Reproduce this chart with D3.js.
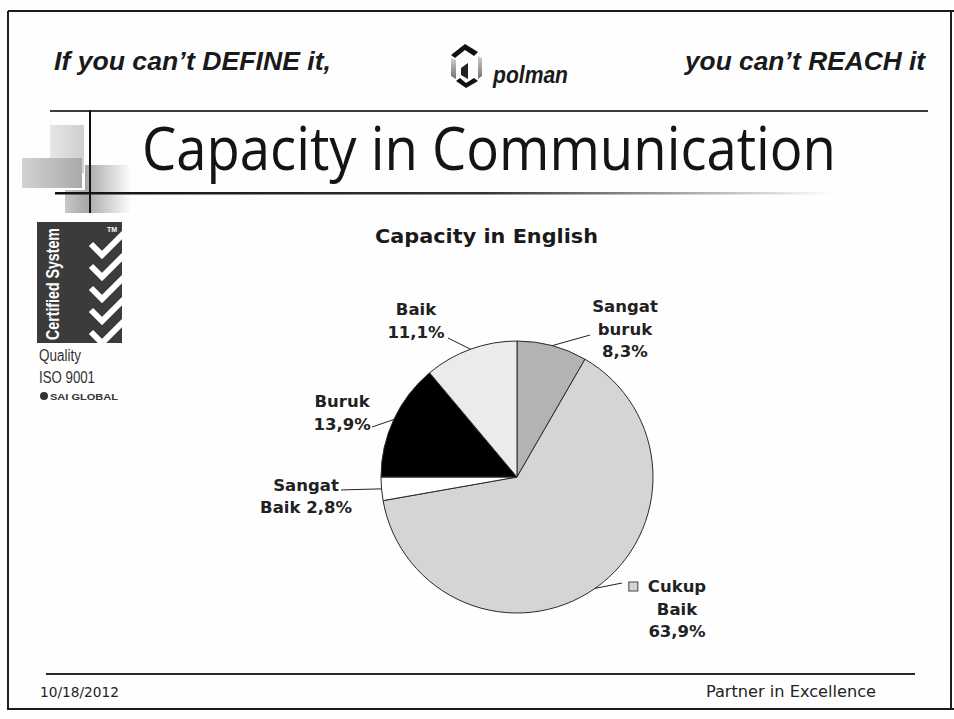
<!DOCTYPE html>
<html>
<head>
<meta charset="utf-8">
<script src="https://cdn.jsdelivr.net/npm/d3@7"></script>
<style>
  html, body { margin: 0; padding: 0; background: #ffffff; }
  svg { display: block; }
</style>
</head>
<body>
<script>
// ---------------- DATA ----------------
const categories = ["Sangat buruk", "Cukup Baik", "Sangat Baik", "Buruk", "Baik"];
const counts = [3, 23, 1, 5, 4];               // respondents (out of 36)
const labelLines = [
  ["Sangat", "buruk", "8,3%"],
  ["Cukup", "Baik", "63,9%"],
  ["Sangat", "Baik 2,8%"],
  ["Buruk", "13,9%"],
  ["Baik", "11,1%"]
];
const sliceColors = ["#b3b3b3", "#d5d5d5", "#ffffff", "#000000", "#ebebeb"];
const chartTitle = "Capacity in English";
const slideTitle = "Capacity in Communication";
const headerLeft = "If you can\u2019t DEFINE it,";
const headerRight = "you can\u2019t REACH it";
const footerLeft = "10/18/2012";
const footerRight = "Partner in Excellence";

// label layout: offsets relative to the slice's outer mid-point
const labelLayout = [
  { lx: 37.8, ly: -10.6, tx: 72.8, ty: -33.6 },
  { lx: 27,   ly: -5.4,  tx: 82,   ty: 3.6 },
  { lx: -40.5, ly: 1.1,  tx: -75.5, ty: 1.8 },
  { lx: -21.7, ly: 7.5,  tx: -51.7, ty: -12.5 },
  { lx: -22.5, ly: -11.2, tx: -54.5, ty: -34.2 }
];

// ---------------- SVG ----------------
const W = 954, H = 719;
const svg = d3.select("body").append("svg").attr("width", W).attr("height", H);
const defs = svg.append("defs");

svg.append("rect").attr("width", W).attr("height", H).attr("fill", "#fefefe");

// slide frame
const frame = svg.append("g").attr("stroke", "#1e1e1e").attr("stroke-width", 2).attr("fill", "none");
frame.append("line").attr("x1", 8).attr("y1", 11).attr("x2", 954).attr("y2", 11);
frame.append("line").attr("x1", 8).attr("y1", 11).attr("x2", 8).attr("y2", 710);
frame.append("line").attr("x1", 8).attr("y1", 709).attr("x2", 954).attr("y2", 709);
frame.append("line").attr("x1", 951).attr("y1", 11).attr("x2", 951).attr("y2", 710);

// header
svg.append("text").attr("x", 54).attr("y", 70)
  .attr("font-family", "'Liberation Sans', Arial, sans-serif")
  .attr("font-weight", "bold").attr("font-style", "italic").attr("font-size", 26)
  .attr("fill", "#1a1a1a").attr("textLength", 277).attr("lengthAdjust", "spacingAndGlyphs")
  .text(headerLeft);
svg.append("text").attr("x", 685).attr("y", 70)
  .attr("font-family", "'Liberation Sans', Arial, sans-serif")
  .attr("font-weight", "bold").attr("font-style", "italic").attr("font-size", 26)
  .attr("fill", "#1a1a1a").attr("textLength", 240).attr("lengthAdjust", "spacingAndGlyphs")
  .text(headerRight);

// polman logo
const lg = defs.append("linearGradient").attr("id", "logoGrey").attr("x1", 0).attr("y1", 0).attr("x2", 0).attr("y2", 1);
lg.append("stop").attr("offset", "0%").attr("stop-color", "#d0d0d0");
lg.append("stop").attr("offset", "100%").attr("stop-color", "#707070");
const logo = svg.append("g");
logo.append("path").attr("d", "M451,55 L465,44 L478,52 L474,56 L465,50 L455,58 Z").attr("fill", "#111");
logo.append("path").attr("d", "M451,58 L456,60 L456,79 L451,76 Z").attr("fill", "url(#logoGrey)");
logo.append("path").attr("d", "M478,56 L482,58 L482,76 L478,79 Z").attr("fill", "url(#logoGrey)");
logo.append("path").attr("d", "M456,81 L466,88 L478,81 L474,78 L466,83 L460,78 Z").attr("fill", "#111");
logo.append("path").attr("d", "M461,68 L468,63 L468,79 L461,75 Z").attr("fill", "#222");
svg.append("text").attr("x", 493).attr("y", 83)
  .attr("font-family", "'Liberation Sans Narrow', 'Liberation Sans', Arial, sans-serif")
  .attr("font-weight", "bold").attr("font-style", "italic").attr("font-size", 23)
  .attr("fill", "#1a1a1a").attr("textLength", 75).attr("lengthAdjust", "spacingAndGlyphs")
  .text("polman");

// decorative grey squares
function hGrad(id, c1, c2) {
  const g = defs.append("linearGradient").attr("id", id).attr("x1", 0).attr("y1", 0).attr("x2", 1).attr("y2", 0);
  g.append("stop").attr("offset", "0%").attr("stop-color", c1);
  g.append("stop").attr("offset", "100%").attr("stop-color", c2);
}
hGrad("sq1", "#e6e6e6", "#cfcfcf");
hGrad("sq2", "#d2d2d2", "#a9a9a9");
hGrad("sq3", "#a5a5a5", "#ffffff");
hGrad("sq4", "#c8c8c8", "#a8a8a8");
svg.append("rect").attr("x", 50).attr("y", 125).attr("width", 34).attr("height", 48).attr("fill", "url(#sq1)");
svg.append("rect").attr("x", 22).attr("y", 158).attr("width", 60).attr("height", 30).attr("fill", "url(#sq2)");
svg.append("rect").attr("x", 85).attr("y", 165).attr("width", 47).attr("height", 48).attr("fill", "url(#sq3)");
svg.append("rect").attr("x", 65).attr("y", 190).attr("width", 22).attr("height", 23).attr("fill", "url(#sq4)");

// title lines
const fade = defs.append("linearGradient").attr("id", "fadeLine").attr("x1", 0).attr("y1", 0).attr("x2", 1).attr("y2", 0);
fade.append("stop").attr("offset", "0%").attr("stop-color", "#111");
fade.append("stop").attr("offset", "55%").attr("stop-color", "#333");
fade.append("stop").attr("offset", "100%").attr("stop-color", "#ffffff");
svg.append("line").attr("x1", 50).attr("y1", 111).attr("x2", 928).attr("y2", 111)
  .attr("stroke", "#3a3a3a").attr("stroke-width", 2);
svg.append("rect").attr("x", 55).attr("y", 192).attr("width", 780).attr("height", 2.5).attr("fill", "url(#fadeLine)");
svg.append("line").attr("x1", 90).attr("y1", 110).attr("x2", 90).attr("y2", 213)
  .attr("stroke", "#111").attr("stroke-width", 2);

// slide title
svg.append("text").attr("x", 142).attr("y", 170)
  .attr("font-family", "'Open Sans', 'Noto Sans', sans-serif").attr("font-size", 61)
  .attr("fill", "#141414").attr("textLength", 694).attr("lengthAdjust", "spacingAndGlyphs")
  .text(slideTitle);

// certified system badge
const badge = svg.append("g");
badge.append("rect").attr("x", 37).attr("y", 222).attr("width", 85).attr("height", 121).attr("fill", "#3b3b3b");
defs.append("clipPath").attr("id", "badgeClip").append("rect")
  .attr("x", 37).attr("y", 222).attr("width", 85).attr("height", 121);
const checks = badge.append("g").attr("clip-path", "url(#badgeClip)");
[0, 1, 2, 3, 4].forEach(i => {
  const y0 = 240 + i * 22;
  checks.append("path")
    .attr("d", `M91,${y0 + 4} L102,${y0 + 15} L124,${y0 - 7}`)
    .attr("fill", "none").attr("stroke", "#ffffff").attr("stroke-width", 6).attr("stroke-linejoin", "miter");
});
badge.append("text").attr("x", 107).attr("y", 232)
  .attr("font-family", "'Liberation Sans', Arial, sans-serif").attr("font-size", 7).attr("font-weight", "bold")
  .attr("fill", "#fff").text("TM");
badge.append("text").attr("transform", "translate(59,340) rotate(-90)")
  .attr("font-family", "'Liberation Sans Narrow', 'Liberation Sans', Arial, sans-serif")
  .attr("font-weight", "bold").attr("font-size", 19).attr("fill", "#ffffff")
  .attr("textLength", 112).attr("lengthAdjust", "spacingAndGlyphs")
  .text("Certified System");
svg.append("text").attr("x", 39).attr("y", 361)
  .attr("font-family", "'Liberation Sans Narrow', 'Liberation Sans', Arial, sans-serif")
  .attr("font-size", 16).attr("fill", "#333").attr("textLength", 42).attr("lengthAdjust", "spacingAndGlyphs")
  .text("Quality");
svg.append("text").attr("x", 39).attr("y", 383)
  .attr("font-family", "'Liberation Sans Narrow', 'Liberation Sans', Arial, sans-serif")
  .attr("font-size", 16).attr("fill", "#333").attr("textLength", 56).attr("lengthAdjust", "spacingAndGlyphs")
  .text("ISO 9001");
svg.append("circle").attr("cx", 44).attr("cy", 396).attr("r", 4).attr("fill", "#333");
svg.append("text").attr("x", 50).attr("y", 400)
  .attr("font-family", "'Liberation Sans', Arial, sans-serif").attr("font-weight", "bold")
  .attr("font-size", 9).attr("fill", "#333").attr("textLength", 68).attr("lengthAdjust", "spacingAndGlyphs")
  .text("SAI GLOBAL");

// chart title
svg.append("text").attr("x", 486.5).attr("y", 243).attr("text-anchor", "middle")
  .attr("font-family", "'DejaVu Sans', Verdana, sans-serif").attr("font-weight", "bold")
  .attr("font-size", 20).attr("fill", "#1a1a1a")
  .attr("textLength", 223).attr("lengthAdjust", "spacingAndGlyphs")
  .text(chartTitle);

// ---------------- PIE ----------------
const cx = 517, cy = 477, R = 136;
const data = categories.map((c, i) => ({ cat: c, value: counts[i], color: sliceColors[i], lines: labelLines[i], lay: labelLayout[i] }));
const pie = d3.pie().sort(null).value(d => d.value);
const arcs = pie(data);
const arc = d3.arc().innerRadius(0).outerRadius(R);
const edgeArc = d3.arc().innerRadius(R).outerRadius(R);

const pg = svg.append("g").attr("transform", `translate(${cx},${cy})`);
pg.selectAll("path.slice").data(arcs).enter().append("path")
  .attr("class", "slice")
  .attr("d", arc)
  .attr("fill", d => d.data.color)
  .attr("stroke", "#2a2a2a").attr("stroke-width", 1);

// labels + leader lines
arcs.forEach(a => {
  const [px, py] = edgeArc.centroid(a);
  const L = a.data.lay;
  pg.append("line")
    .attr("x1", px).attr("y1", py)
    .attr("x2", px + L.lx).attr("y2", py + L.ly)
    .attr("stroke", "#222").attr("stroke-width", 1);
  const t = pg.append("text")
    .attr("font-family", "'DejaVu Sans', Verdana, sans-serif")
    .attr("font-weight", "bold").attr("font-size", 16.5)
    .attr("fill", "#222").attr("text-anchor", "middle");
  a.data.lines.forEach((ln, j) => {
    t.append("tspan").attr("x", px + L.tx).attr("y", py + L.ty + j * 22.5).text(ln);
  });
  if (a.data.cat === "Cukup Baik") {
    const first = t.select("tspan").node();
    const w = first.getComputedTextLength();
    const sx = px + L.tx - w / 2 - 19;
    pg.append("rect").attr("x", sx).attr("y", py + L.ty - 10)
      .attr("width", 9).attr("height", 9)
      .attr("fill", d3.color(a.data.color)).attr("stroke", "#444").attr("stroke-width", 1);
  }
});

// footer
svg.append("line").attr("x1", 46).attr("y1", 674).attr("x2", 915).attr("y2", 674)
  .attr("stroke", "#2a2a2a").attr("stroke-width", 2);
svg.append("text").attr("x", 40).attr("y", 697)
  .attr("font-family", "'DejaVu Sans Condensed', 'DejaVu Sans', sans-serif").attr("font-size", 14)
  .attr("fill", "#222").attr("textLength", 79).attr("lengthAdjust", "spacingAndGlyphs")
  .text(footerLeft);
svg.append("text").attr("x", 706).attr("y", 697)
  .attr("font-family", "'DejaVu Sans Condensed', 'DejaVu Sans', sans-serif").attr("font-size", 15)
  .attr("fill", "#222").attr("textLength", 170).attr("lengthAdjust", "spacingAndGlyphs")
  .text(footerRight);
</script>
</body>
</html>
